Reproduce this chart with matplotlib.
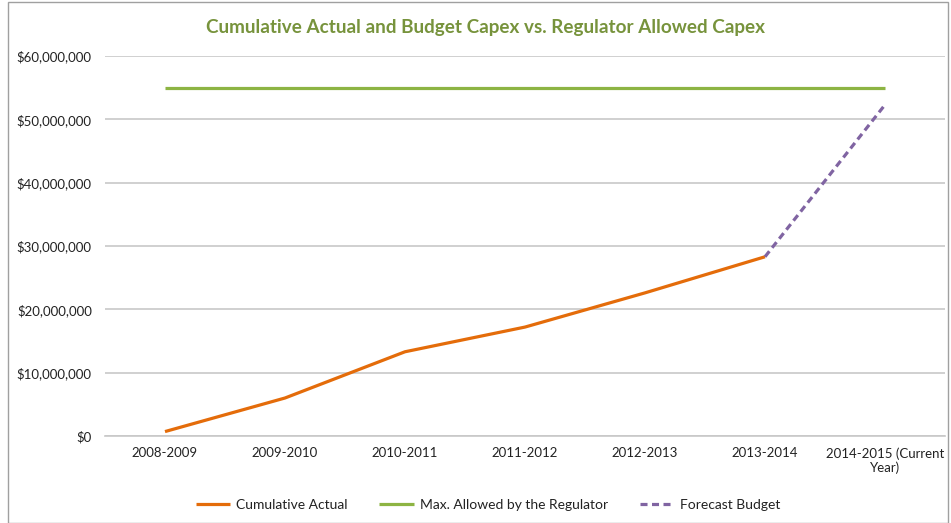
import matplotlib
matplotlib.use("Agg")
import matplotlib.pyplot as plt
from matplotlib.ticker import FuncFormatter
from matplotlib.patches import Rectangle

categories = ["2008-2009", "2009-2010", "2010-2011", "2011-2012", "2012-2013",
              "2013-2014", "2014-2015 (Current\nYear)"]
cumulative_actual = [0.7e6, 6.0e6, 13.3e6, 17.2e6, 22.6e6, 28.3e6]
max_allowed = [55.0e6] * 7
forecast_idx = [5, 6]
forecast_budget = [28.3e6, 52.3e6]
yticks = [0, 10e6, 20e6, 30e6, 40e6, 50e6, 60e6]

plt.rcParams['font.family'] = ['Lato', 'DejaVu Sans']

fig = plt.figure(figsize=(9.51, 5.23), dpi=100)
ax = fig.add_axes([105/951, 1-436/523, 840/951, 380/523])

x = list(range(len(categories)))
ax.plot(x[:len(cumulative_actual)], cumulative_actual, color="#E46C0A", lw=2.3,
        label="Cumulative Actual", solid_capstyle="butt")
ax.plot(x, max_allowed, color="#8DB443", lw=2.3, label="Max. Allowed by the Regulator",
        solid_capstyle="butt")
ax.plot(forecast_idx, forecast_budget, color="#8064A2", lw=2.3, ls=(0, (2.2, 1.4)),
        label="Forecast Budget")

ax.set_xlim(-0.5, 6.5)
ax.set_ylim(0, 60e6)
ax.set_yticks(yticks)
ax.yaxis.set_major_formatter(FuncFormatter(lambda v, p: "${:,.0f}".format(v)))
ax.set_xticks(x)
ax.set_xticklabels(categories)
ax.grid(axis="y", color="#C8C8C8", lw=1.2)
ax.set_axisbelow(True)
for s in ["top", "right", "left"]:
    ax.spines[s].set_visible(False)
ax.spines["bottom"].set_color("#C8C8C8")
ax.spines["bottom"].set_linewidth(1.2)
ax.tick_params(length=0, labelsize=9.5, colors="#222222", pad=8)
ax.tick_params(axis="y", pad=9.5)

fig.text(485/951, 1-27/523, "Cumulative Actual and Budget Capex vs. Regulator Allowed Capex",
         ha="center", va="center", fontsize=13.6, fontweight="bold", color="#77933C")

leg = fig.legend(loc="center", bbox_to_anchor=(488/951, 1-505/523), ncol=3, frameon=False,
                 fontsize=10, handlelength=2.5, columnspacing=2.3, handletextpad=0.4)
for t in leg.get_texts():
    t.set_color("#222222")

fig.patches.append(Rectangle((8/951, 0.5/523), 940/951, 521/523, transform=fig.transFigure,
                             fill=False, edgecolor="#A0A0A0", lw=1.0))

fig.savefig("out.png", dpi=100)
